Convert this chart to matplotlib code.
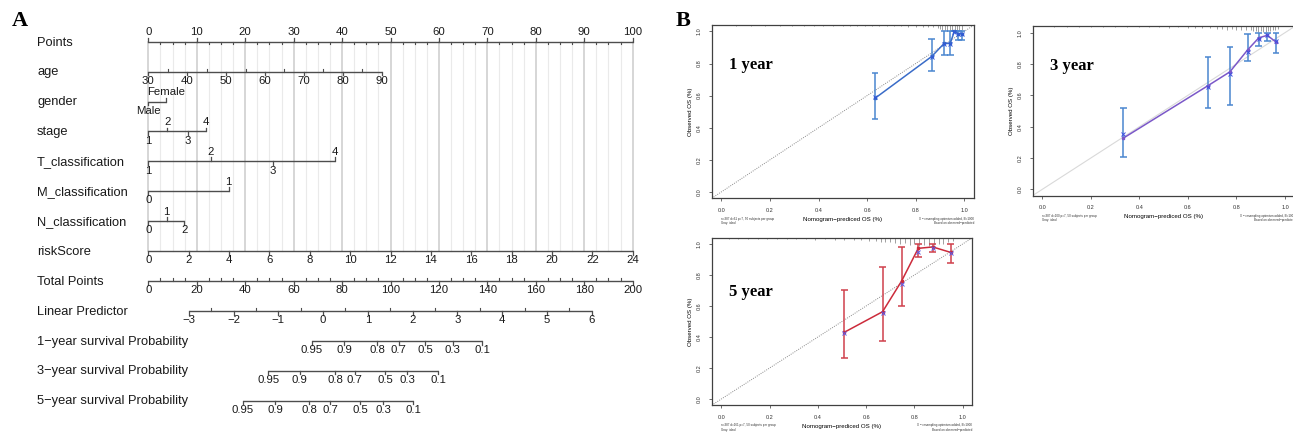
import numpy as np
import matplotlib
matplotlib.use("Agg")
import matplotlib.pyplot as plt
import matplotlib.transforms as mtransforms

plt.rcParams['font.family'] = ['Liberation Sans', 'DejaVu Sans']

W, H = 1293, 434

# ---------------- nomogram data (panel A) ----------------
row_names = ["Points", "age", "gender", "stage", "T_classification", "M_classification",
             "N_classification", "riskScore", "Total Points", "Linear Predictor",
             "1\u2212year survival Probability", "3\u2212year survival Probability",
             "5\u2212year survival Probability"]

points_ticks = [0, 10, 20, 30, 40, 50, 60, 70, 80, 90, 100]

age_ticks = [30, 40, 50, 60, 70, 80, 90]
age_points_at_90 = 48.2

gender_levels = ["Male", "Female"]
gender_points = [0, 3.6]
stage_levels = ["1", "2", "3", "4"]
stage_points = [0, 3.9, 8.1, 11.9]
t_levels = ["1", "2", "3", "4"]
t_points = [0, 12.9, 25.7, 38.5]
m_levels = ["0", "1"]
m_points = [0, 16.6]
n_levels = ["0", "1", "2"]
n_points = [0, 3.8, 7.4]

risk_ticks = [0, 2, 4, 6, 8, 10, 12, 14, 16, 18, 20, 22, 24]
total_ticks = [0, 20, 40, 60, 80, 100, 120, 140, 160, 180, 200]

lp_ticks = [-3, -2, -1, 0, 1, 2, 3, 4, 5, 6]
lp_total_at_min = 16.7   # total points where LP = -3
lp_total_at_max = 183.1  # total points where LP = 6

surv_probs = ["0.95", "0.9", "0.8", "0.7", "0.5", "0.3", "0.1"]
surv1_total = [67.5, 80.8, 94.5, 103.4, 114.4, 125.7, 137.8]
surv3_total = [49.5, 62.6, 77.1, 85.3, 97.7, 106.9, 119.7]
surv5_total = [39.0, 52.3, 66.5, 75.0, 87.4, 97.0, 109.4]

# ---------------- calibration data (panel B) ----------------
cal1_pred = [0.632, 0.866, 0.917, 0.942, 0.959, 0.975, 0.989]
cal1_obs = [0.583, 0.844, 0.925, 0.925, 1.0, 0.985, 0.985]
cal1_corr = [0.590, 0.840, 0.920, 0.922, 0.995, 0.982, 0.982]
cal1_lo = [0.455, 0.752, 0.855, 0.855, 1.0, 0.944, 0.944]
cal1_hi = [0.739, 0.950, 1.0, 1.0, 1.0, 1.0, 1.0]

cal3_pred = [0.334, 0.683, 0.773, 0.846, 0.892, 0.927, 0.963]
cal3_obs = [0.327, 0.662, 0.750, 0.890, 0.967, 0.983, 0.940]
cal3_corr = [0.352, 0.655, 0.735, 0.878, 0.958, 0.985, 0.945]
cal3_lo = [0.204, 0.522, 0.540, 0.820, 0.917, 0.950, 0.872]
cal3_hi = [0.518, 0.846, 0.910, 0.990, 1.0, 1.0, 1.0]

cal5_pred = [0.509, 0.668, 0.747, 0.816, 0.876, 0.950]
cal5_obs = [0.430, 0.563, 0.761, 0.972, 0.981, 0.946]
cal5_corr = [0.425, 0.555, 0.745, 0.950, 0.975, 0.945]
cal5_lo = [0.262, 0.376, 0.598, 0.918, 0.950, 0.875]
cal5_hi = [0.705, 0.852, 0.979, 1.0, 1.0, 1.0]

# rug of predicted values along top border (position, spike length)
rug1_x = [0.06, 0.12, 0.18, 0.24, 0.29, 0.34, 0.38, 0.42, 0.46, 0.50, 0.53, 0.56, 0.59,
          0.62, 0.65, 0.68, 0.71, 0.74, 0.77, 0.80, 0.83, 0.85, 0.87, 0.89, 0.90, 0.91,
          0.92, 0.93, 0.94, 0.95, 0.96, 0.97, 0.98, 0.99]
rug1_h = [0.006, 0.006, 0.006, 0.006, 0.006, 0.006, 0.006, 0.006, 0.006, 0.006, 0.006,
          0.006, 0.006, 0.008, 0.006, 0.008, 0.008, 0.008, 0.01, 0.01, 0.012, 0.012,
          0.015, 0.02, 0.025, 0.03, 0.03, 0.035, 0.04, 0.04, 0.04, 0.04, 0.035, 0.03]
rug3_x = [0.05, 0.10, 0.15, 0.20, 0.25, 0.30, 0.35, 0.40, 0.44, 0.48, 0.52, 0.56, 0.60,
          0.63, 0.66, 0.69, 0.72, 0.74, 0.76, 0.78, 0.80, 0.82, 0.84, 0.86, 0.87, 0.88,
          0.89, 0.90, 0.91, 0.92, 0.93, 0.94, 0.95, 0.96, 0.97]
rug3_h = [0.005, 0.005, 0.005, 0.005, 0.005, 0.006, 0.005, 0.006, 0.006, 0.006, 0.008,
          0.006, 0.008, 0.008, 0.01, 0.01, 0.015, 0.015, 0.02, 0.015, 0.02, 0.025, 0.02,
          0.025, 0.03, 0.03, 0.035, 0.03, 0.035, 0.035, 0.03, 0.03, 0.025, 0.02, 0.015]
rug5_x = [0.03, 0.07, 0.11, 0.15, 0.19, 0.23, 0.27, 0.31, 0.35, 0.39, 0.43, 0.47, 0.51,
          0.55, 0.58, 0.61, 0.64, 0.66, 0.68, 0.70, 0.72, 0.74, 0.76, 0.78, 0.80, 0.82,
          0.84, 0.86, 0.88, 0.90, 0.92, 0.94, 0.96]
rug5_h = [0.008, 0.008, 0.008, 0.01, 0.008, 0.01, 0.01, 0.008, 0.01, 0.012, 0.01, 0.012,
          0.015, 0.012, 0.015, 0.02, 0.02, 0.025, 0.03, 0.03, 0.035, 0.04, 0.035, 0.045,
          0.04, 0.05, 0.045, 0.05, 0.045, 0.04, 0.04, 0.03, 0.02]

LINE = "#4d4d4d"
TXT = "#1a1a1a"

fig = plt.figure(figsize=(W / 100, H / 100), dpi=100)


def px_axes(left, top, right, bottom):
    return fig.add_axes([left / W, 1 - bottom / H, (right - left) / W, (bottom - top) / H])


# ---------------- panel A ----------------
ax = px_axes(148.3, 0, 632.7, 434)
row_px = 29.9
first_row_px = 41.7
ax.set_xlim(0, 100)
ax.set_ylim((H - first_row_px) / row_px, -first_row_px / row_px)
ax.axis("off")

lab_tr = mtransforms.blended_transform_factory(fig.transFigure, ax.transData)
for i, name in enumerate(row_names):
    ax.text(37 / W, i + 0.03, name, transform=lab_tr, fontsize=9.3, color=TXT,
            ha="left", va="center")

# vertical reference lines
for g in np.arange(0, 100.01, 2.5):
    major = abs(g % 10) < 1e-6
    ax.plot([g, g], [0, 7], color="#cccccc" if major else "#eaeaea",
            lw=1.1 if major else 0.8, zorder=0, clip_on=False)

TICK = 0.13
MINOR = 0.09
OFF = 0.31
FS = 8.2


def draw_axis(row, xs, labels, sides, minor_xs=()):
    ax.plot([min(xs), max(xs)], [row, row], color=LINE, lw=1.0, clip_on=False,
            solid_capstyle="butt")
    for x, lab, s in zip(xs, labels, sides):
        ax.plot([x, x], [row, row + s * TICK], color=LINE, lw=0.9, clip_on=False)
        ax.text(x, row + s * OFF, lab, fontsize=FS, color=TXT, ha="center", va="center")
    side = sides[0]
    for x in minor_xs:
        ax.plot([x, x], [row, row - side * MINOR], color=LINE, lw=0.8, clip_on=False)


# Points
draw_axis(0, points_ticks, [str(v) for v in points_ticks], [-1] * len(points_ticks),
          [v + d for v in points_ticks[:-1] for d in (2.5, 5, 7.5)])
# age
age_scale = age_points_at_90 / (age_ticks[-1] - age_ticks[0])
draw_axis(1, [(a - age_ticks[0]) * age_scale for a in age_ticks],
          [str(a) for a in age_ticks], [1] * len(age_ticks),
          [(a + 5 - age_ticks[0]) * age_scale for a in age_ticks[:-1]])
# categorical rows
for row, lv, pts in [(2, gender_levels, gender_points), (3, stage_levels, stage_points),
                     (4, t_levels, t_points), (5, m_levels, m_points),
                     (6, n_levels, n_points)]:
    draw_axis(row, pts, lv, [1 if k % 2 == 0 else -1 for k in range(len(lv))])
# riskScore
draw_axis(7, [r * 100 / risk_ticks[-1] for r in risk_ticks], [str(r) for r in risk_ticks],
          [1] * len(risk_ticks))
# Total points (200 total points across the 100-point width)
draw_axis(8, [t / 2 for t in total_ticks], [str(t) for t in total_ticks],
          [1] * len(total_ticks),
          [(t + d) / 2 for t in total_ticks[:-1] for d in (5, 10, 15)])
# Linear predictor
lp_slope = (lp_total_at_max - lp_total_at_min) / (lp_ticks[-1] - lp_ticks[0])


def lp_to_x(v):
    return (lp_total_at_min + (v - lp_ticks[0]) * lp_slope) / 2


draw_axis(9, [lp_to_x(v) for v in lp_ticks],
          [str(v).replace("-", "\u2212") for v in lp_ticks], [1] * len(lp_ticks),
          [lp_to_x(v + 0.5) for v in lp_ticks[:-1]])
# survival probabilities
for row, tot in [(10, surv1_total), (11, surv3_total), (12, surv5_total)]:
    draw_axis(row, [t / 2 for t in tot], surv_probs, [1] * len(tot))

fig.text(12 / W, 1 - 21 / H, "A", fontsize=16, fontweight="bold",
         family="Liberation Serif", ha="left", va="center")
fig.text(676 / W, 1 - 21 / H, "B", fontsize=16, fontweight="bold",
         family="Liberation Serif", ha="left", va="center")


# ---------------- panel B ----------------
def calib(box, pred, obs, corr, lo, hi, rug_x, rug_h, line_col, err_col, x_col,
          title, title_y, diag_style, n_text):
    left, top, right, bottom = box
    a = px_axes(left, top, right, bottom)
    a.set_xlim(-0.04, 1.04)
    a.set_ylim(-0.04, 1.04)
    for sp in a.spines.values():
        sp.set_color("#404040")
        sp.set_linewidth(0.9)
    ticks = [0.0, 0.2, 0.4, 0.6, 0.8, 1.0]
    a.set_xticks(ticks)
    a.set_yticks(ticks)
    a.set_xticklabels(["%.1f" % t for t in ticks])
    a.set_yticklabels(["%.1f" % t for t in ticks], rotation=90, va="center")
    a.tick_params(length=2, width=0.5, labelsize=4.0, pad=5, colors="#333333")
    a.set_xlabel("Nomogram\u2212prediced OS (%)", fontsize=4.4, labelpad=3)
    a.set_ylabel("Observed OS (%)", fontsize=4.4, labelpad=3)

    if diag_style == "solid":
        a.plot([-0.04, 1.04], [-0.04, 1.04], color="#d9d9d9", lw=0.8, zorder=1)
    else:
        a.plot([-0.04, 1.04], [-0.04, 1.04], color="#8a8a8a", lw=0.7, ls=(0, (1, 1.3)),
               zorder=1)

    a.vlines(rug_x, [1.04 - h for h in rug_h], 1.04, color="#7a7a7a", lw=0.5, zorder=2)

    pred = np.array(pred)
    a.vlines(pred, lo, hi, color=err_col, lw=1.1, zorder=3)
    a.hlines(lo, pred - 0.014, pred + 0.014, color=err_col, lw=1.1, zorder=3)
    a.hlines(hi, pred - 0.014, pred + 0.014, color=err_col, lw=1.1, zorder=3)
    a.plot(pred, obs, color=line_col, lw=1.1, marker="s", ms=1.8, zorder=4)
    a.plot(pred, corr, ls="none", marker="x", ms=2.2, mew=0.7, color=x_col, zorder=5)

    a.text(0.03, title_y, title, fontsize=12, fontweight="bold",
           family="Liberation Serif", ha="left", va="center")

    a.text(0.0, -0.155, n_text + "\nGray: ideal", fontsize=2.2, ha="left", va="top",
           transform=a.transData, clip_on=False, color="#333333")
    a.text(1.04, -0.155, "X \u2212 resampling optimism added, B=1000\n"
           "Based on observed\u2212predicted", fontsize=2.2, ha="right", va="top",
           transform=a.transData, clip_on=False, color="#333333")
    return a


calib((711.7, 25, 974, 198.3), cal1_pred, cal1_obs, cal1_corr, cal1_lo, cal1_hi,
      rug1_x, rug1_h, "#3a6cc8", "#4a86d0", "#2f55d8", "1 year", 0.79, "dotted",
      "n=387 d=61 p=7, 50 subjects per group")
calib((1032.6, 26.4, 1294.7, 195.6), cal3_pred, cal3_obs, cal3_corr, cal3_lo, cal3_hi,
      rug3_x, rug3_h, "#7b58c8", "#4a86d0", "#3f4fe0", "3 year", 0.785, "solid",
      "n=387 d=100 p=7, 50 subjects per group")
calib((711.7, 237.8, 972.3, 405.2), cal5_pred, cal5_obs, cal5_corr, cal5_lo, cal5_hi,
      rug5_x, rug5_h, "#cc2b3b", "#d0404c", "#5a5ae6", "5 year", 0.69, "dotted",
      "n=387 d=161 p=7, 50 subjects per group")

fig.savefig("out.png", dpi=100)
